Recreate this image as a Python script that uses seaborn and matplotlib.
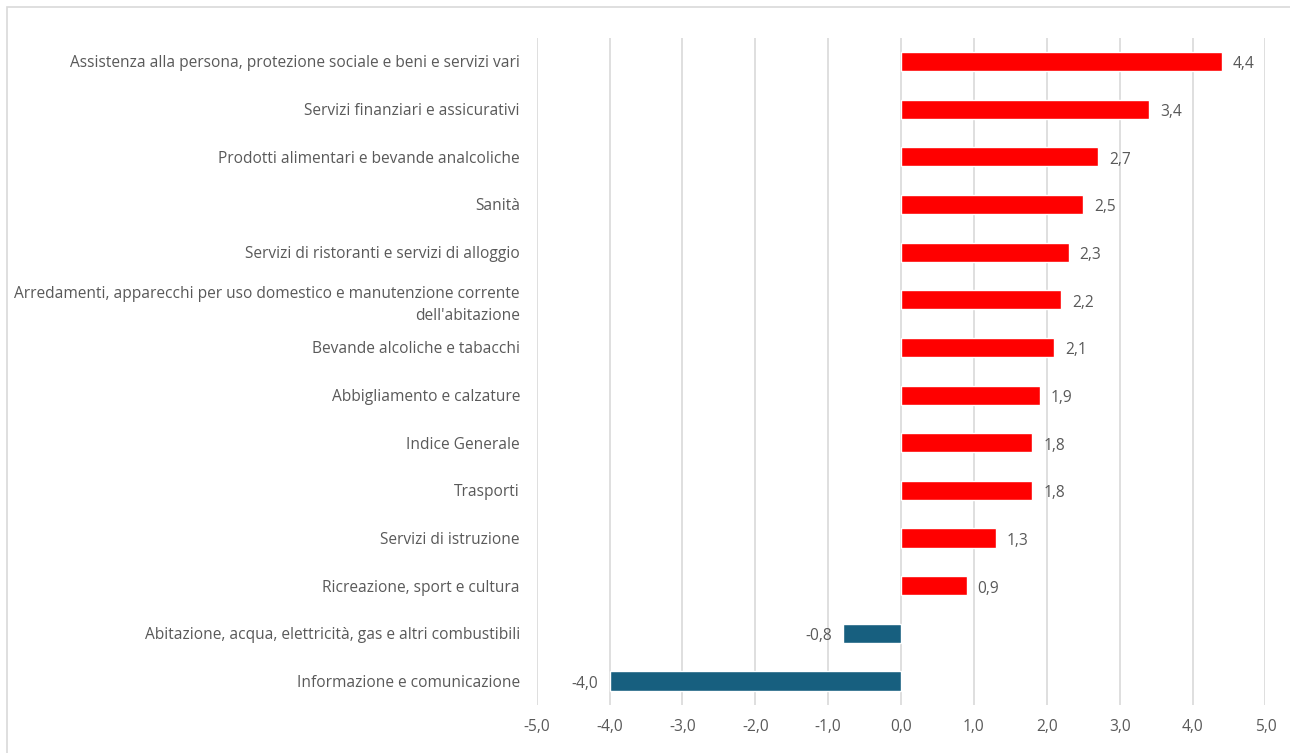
import pandas as pd
import matplotlib.pyplot as plt
import seaborn as sns
from matplotlib.patches import Rectangle

# Data
categories = [
    "Assistenza alla persona, protezione sociale e beni e servizi vari",
    "Servizi finanziari e assicurativi",
    "Prodotti alimentari e bevande analcoliche",
    "Sanità",
    "Servizi di ristoranti e servizi di alloggio",
    "Arredamenti, apparecchi per uso domestico e manutenzione corrente\ndell'abitazione",
    "Bevande alcoliche e tabacchi",
    "Abbigliamento e calzature",
    "Indice Generale",
    "Trasporti",
    "Servizi di istruzione",
    "Ricreazione, sport e cultura",
    "Abitazione, acqua, elettricità, gas e altri combustibili",
    "Informazione e comunicazione",
]
values = [4.4, 3.4, 2.7, 2.5, 2.3, 2.2, 2.1, 1.9, 1.8, 1.8, 1.3, 0.9, -0.8, -4.0]
x_ticks = [-5, -4, -3, -2, -1, 0, 1, 2, 3, 4, 5]

df = pd.DataFrame({"cat": categories, "val": values})
df["sign"] = ["pos" if v >= 0 else "neg" for v in values]

sns.set_style("white")
plt.rcParams['font.family'] = ['Open Sans', 'DejaVu Sans']
text_color = "#595959"
fs = 11.2

fig = plt.figure(figsize=(12.9, 7.53), dpi=100)
ax = fig.add_axes([0.416, 0.064, 0.565, 0.886])

sns.barplot(data=df, y="cat", x="val", hue="sign", orient="h",
            palette={"pos": "#FF0000", "neg": "#175F7F"}, saturation=1,
            width=0.4, legend=False, ax=ax, dodge=False, zorder=3)

ax.set_xlim(-5, 5)
ax.set_xticks(x_ticks)
ax.set_xticklabels([f"{t:.1f}".replace(".", ",") for t in x_ticks],
                   fontsize=fs, color=text_color)
ax.set_ylim(len(categories) - 0.5, -0.5)
ax.tick_params(axis="y", labelsize=fs, labelcolor=text_color, length=0, pad=12)
for lab in ax.get_yticklabels():
    lab.set_multialignment("right")
    lab.set_linespacing(1.55)
ax.tick_params(axis="x", length=0, pad=10)
ax.set_xlabel("")
ax.set_ylabel("")
ax.grid(axis="x", color="#D9D9D9", linewidth=1.2, zorder=0)
for s in ax.spines.values():
    s.set_visible(False)

# Value labels
for i, v in enumerate(values):
    label = f"{v:.1f}".replace(".", ",")
    if v >= 0:
        ax.text(v + 0.15, i + 0.06, label, va="center", ha="left", fontsize=fs, color=text_color)
    else:
        ax.text(v - 0.15, i + 0.06, label, va="center", ha="right", fontsize=fs, color=text_color)

# Chart border
fig.patches.append(Rectangle((0.0055, -0.01), 1.0, 1.0 - 0.0093 + 0.01, transform=fig.transFigure,
                             fill=False, edgecolor="#D9D9D9", linewidth=1.2))

fig.savefig("out.png", dpi=100)
